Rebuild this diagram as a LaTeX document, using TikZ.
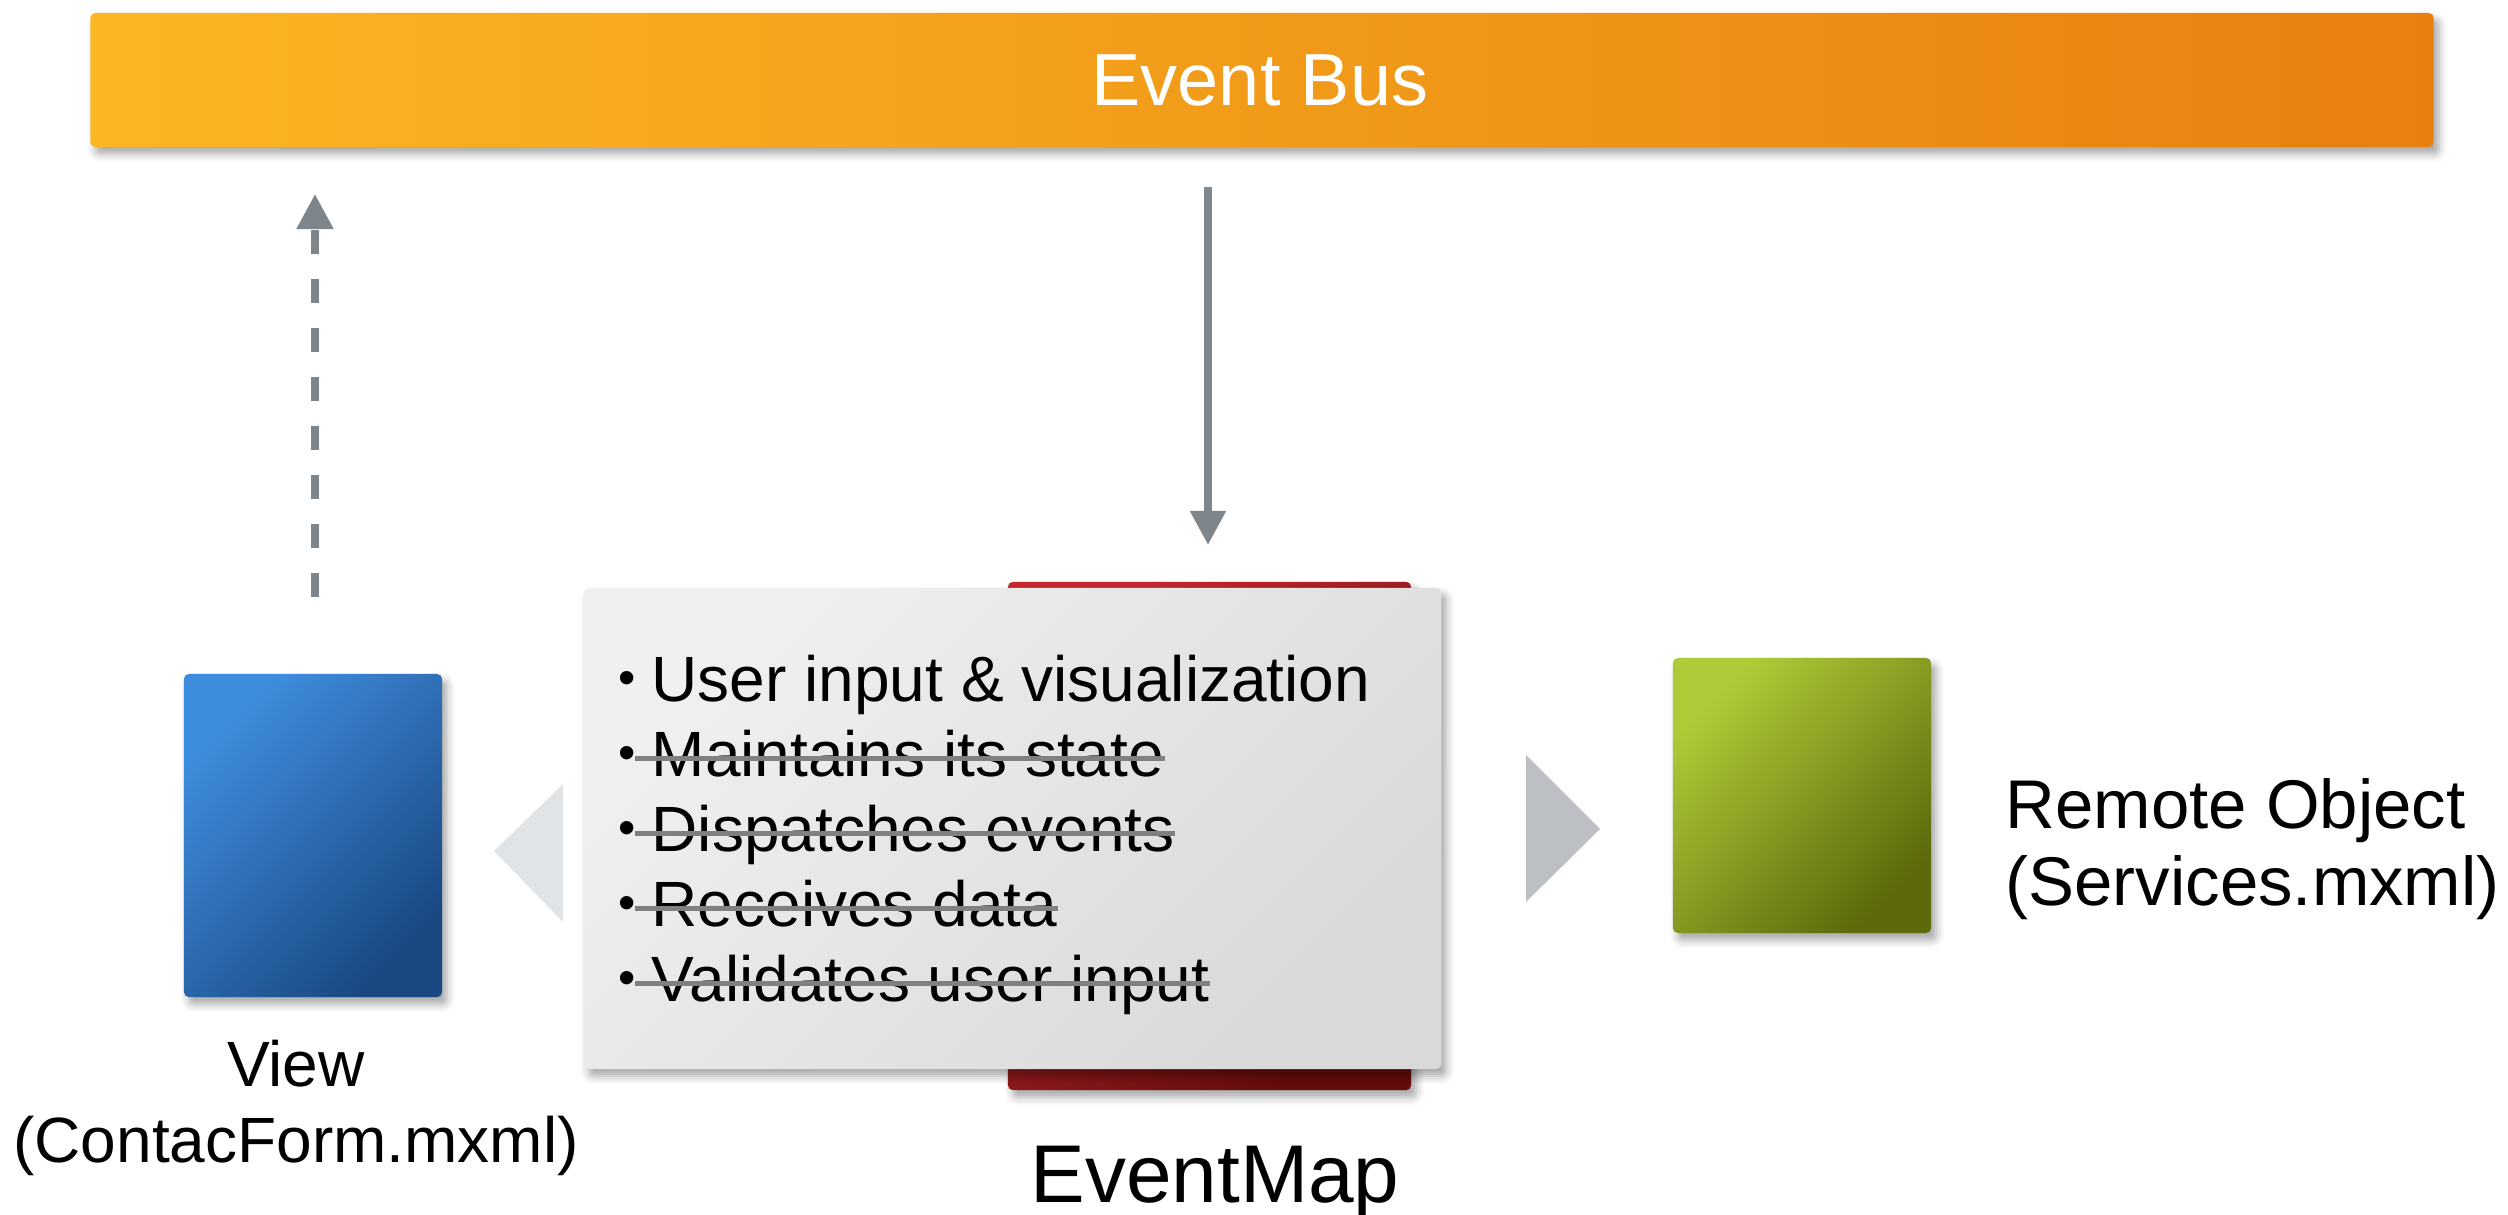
\documentclass[tikz,border=0pt]{standalone}
\usepackage{fontspec}
\setmainfont{Liberation Sans}
\usetikzlibrary{arrows.meta,shadows.blur,calc}
\definecolor{busL}{HTML}{FBB624}
\definecolor{busR}{HTML}{E8800F}
\definecolor{arrowgray}{HTML}{7E858B}
\definecolor{blueTL}{HTML}{3F8EDE}
\definecolor{blueBR}{HTML}{1A4883}
\definecolor{greenTL}{HTML}{AECB37}
\definecolor{greenBR}{HTML}{5D690B}
\definecolor{redTL}{HTML}{C4282E}
\definecolor{redBR}{HTML}{640C0C}
\definecolor{grayTL}{HTML}{F0F0F0}
\definecolor{grayBR}{HTML}{D9D9D9}
\definecolor{ptrL}{HTML}{E1E4E7}
\definecolor{ptrR}{HTML}{BCC0C4}
\definecolor{strikegray}{HTML}{808080}
\begin{document}
\begin{tikzpicture}[x=0.01cm,y=-0.01cm,
  box/.style={rectangle, rounded corners=0.05cm, draw=none, inner sep=0pt},
  diag/.style 2 args={top color=#1, bottom color=#2, shading angle=45},
  shad/.style={blur shadow={shadow xshift=0.05cm, shadow yshift=-0.07cm, shadow blur radius=0.08cm, shadow opacity=35}},
  conn/.style={draw=arrowgray, line width=0.08cm},
  itemtext/.style={anchor=base west, inner sep=0pt, font=\fontsize{18.2}{22}\selectfont},
  bul/.style={anchor=base, inner sep=0pt, font=\fontsize{14}{16}\selectfont},
  strike/.style={draw=strikegray, line width=0.05cm},
  lbl/.style={inner sep=0pt, font=\fontsize{18.2}{22}\selectfont},
  lblbig/.style={inner sep=0pt, font=\fontsize{19.6}{24}\selectfont}
]
\useasboundingbox (0,0) rectangle (2508,1215);

% Event bus
\node[box, shad, minimum width=23.42cm, minimum height=1.34cm, left color=busL, right color=busR] (bus) at (1262,80) {};
\node[anchor=base, inner sep=0pt, text=white, font=\fontsize{21}{25}\selectfont] (bustext) at (1260,105) {Event Bus};

% pointers
\fill[ptrL] (494,851) -- (563,784) -- (563,922) -- cycle;
\fill[ptrR] (1526,755) -- (1600,829) -- (1526,902) -- cycle;

% view box
\node[box, shad, minimum width=2.58cm, minimum height=3.23cm, diag={blueTL}{blueBR}] (view) at (313,835.5) {};
% remote box
\node[box, shad, minimum width=2.58cm, minimum height=2.75cm, diag={greenTL}{greenBR}] (remote) at (1802,795.5) {};
% eventmap red box and card
\node[box, shad, minimum width=4.03cm, minimum height=5.08cm, diag={redTL}{redBR}] (emred) at (1209.5,836) {};
\node[box, shad, minimum width=8.57cm, minimum height=4.81cm, diag={grayTL}{grayBR}] (card) at (1012.5,828.5) {};

% items
\node[bul] (b1) at (627,694) {•};
\node[bul] (b2) at (627,769) {•};
\node[bul] (b3) at (627,844) {•};
\node[bul] (b4) at (627,919) {•};
\node[bul] (b5) at (627,994) {•};
\node[itemtext] (i1) at (651,701) {User input \& visualization};
\node[itemtext] (i2) at (651,776) {Maintains its state};
\node[itemtext] (i3) at (651,851) {Dispatches events};
\node[itemtext] (i4) at (651,926) {Receives data};
\node[itemtext] (i5) at (651,1001) {Validates user input};
\foreach \n in {i2,i3,i4,i5}{
  \draw[strike] ($(\n.base west)+(-16,-18)$) -- ($(\n.base east)+(0,-18)$);
}

% arrows
\coordinate (dtop) at (1208,187);
\coordinate (dtip) at (1208,545);
\draw[conn, -{Triangle[width=0.34cm,length=0.34cm]}] (dtop) -- (dtip);
\coordinate (ubot) at (315,597);
\coordinate (utip) at (315,194);
\draw[conn, dash pattern=on 0.24cm off 0.25cm, -{Triangle[width=0.35cm,length=0.35cm]}] (ubot) -- (utip);

% labels
\node[lbl, anchor=base] (viewname) at (296,1086) {View};
\node[lbl, anchor=base] (viewfile) at (296,1162) {(ContacForm.mxml)};
\node[lblbig, anchor=base west] (remname) at (2005,828) {Remote Object};
\node[lblbig, anchor=base west] (remfile) at (2005,905) {(Services.mxml)};
\node[anchor=base, inner sep=0pt, font=\fontsize{23.3}{28}\selectfont] (emname) at (1215,1202) {EventMap};
\end{tikzpicture}
\end{document}
